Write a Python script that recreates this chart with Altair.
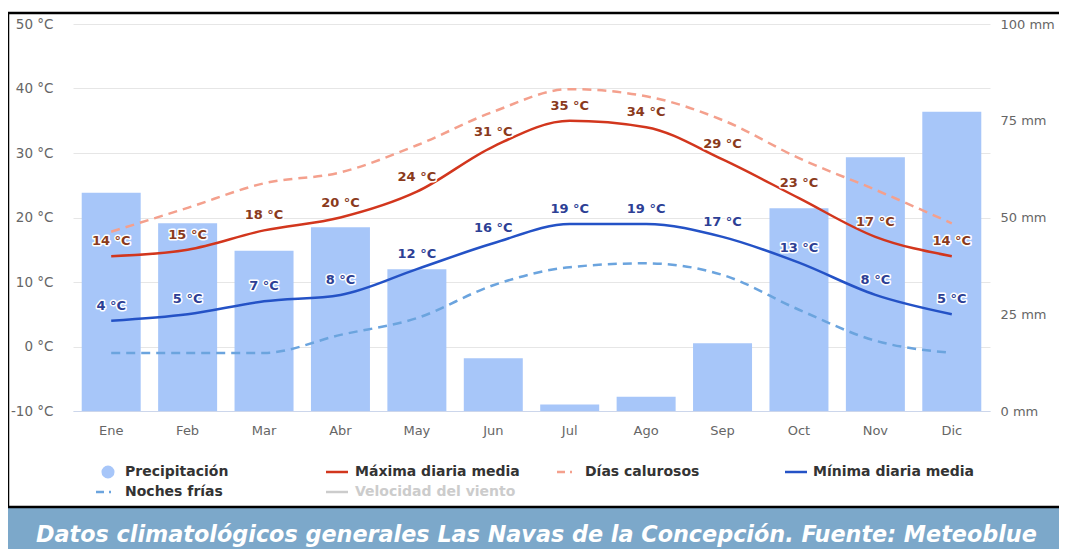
import altair as alt
import pandas as pd

months = ["Ene", "Feb", "Mar", "Abr", "May", "Jun", "Jul", "Ago", "Sep", "Oct", "Nov", "Dic"]
precip = [56.4, 48.5, 41.4, 47.5, 36.6, 13.6, 1.7, 3.7, 17.5, 52.4, 65.6, 77.3]
tmax = [14, 15, 18, 20, 24, 31, 35, 34, 29, 23, 17, 14]
hot = [17.8, 21.5, 25.3, 27.0, 31.2, 36.4, 39.9, 38.8, 35.1, 29.2, 24.3, 19.1]
tmin = [4, 5, 7, 8, 12, 16, 19, 19, 17, 13, 8, 5]
cold = [-1, -1, -1, 1.8, 4.4, 9.5, 12.3, 12.9, 11.1, 5.7, 0.9, -1]
temp_ticks = [-10, 0, 10, 20, 30, 40, 50]
mm_ticks = [0, 25, 50, 75, 100]
caption = "Datos climatológicos generales Las Navas de la Concepción. Fuente: Meteoblue"

df = pd.DataFrame({"mes": months, "precip": precip, "tmax": tmax, "hot": hot,
                   "tmin": tmin, "cold": cold})

FONT = "DejaVu Sans"
W, H = 917, 387

xenc = alt.X("mes:N", sort=months, title=None,
             scale=alt.Scale(paddingInner=0.228, paddingOuter=0.114),
             axis=alt.Axis(labelAngle=0, ticks=False, domainColor="#ccd6eb",
                           labelColor="#666666", labelFontSize=13, labelFont=FONT,
                           labelPadding=13))

base = alt.Chart(df)

bars = base.mark_bar(color="#a7c6f9").encode(
    x=xenc,
    y=alt.Y("precip:Q", title=None,
            scale=alt.Scale(domain=[0, 100], nice=False, zero=True),
            axis=alt.Axis(orient="right", values=mm_ticks, grid=False, domain=False,
                          ticks=False, labelExpr="datum.value + ' mm'",
                          labelColor="#666666", labelFontSize=13, labelFont=FONT,
                          labelPadding=10)),
)

tscale = alt.Scale(domain=[-10, 50], nice=False, zero=False)
taxis = alt.Axis(orient="left", values=temp_ticks, grid=True, gridColor="#e6e6e6",
                 domain=False, ticks=False, labelExpr="datum.value + ' °C'",
                 labelColor="#666666", labelFontSize=13.5, labelFont=FONT,
                 labelPadding=20)


def ty(field):
    return alt.Y(f"{field}:Q", title=None, scale=tscale, axis=taxis)


def line(field, color, dash=None):
    kw = dict(color=color, strokeWidth=2.5, interpolate="monotone")
    if dash:
        kw["strokeDash"] = dash
    return base.mark_line(**kw).encode(x=xenc, y=ty(field))


def labels(field, color):
    enc = dict(x=xenc, y=ty(field), text=alt.Text("lbl:N"))
    b = base.transform_calculate(lbl=f"datum.{field} + ' °C'")
    halo = b.mark_text(font=FONT, fontSize=13, fontWeight="bold", dy=-15,
                       stroke="white", strokeWidth=3, strokeJoin="round",
                       fill="white").encode(**enc)
    txt = b.mark_text(font=FONT, fontSize=13, fontWeight="bold", dy=-15,
                      fill=color).encode(**enc)
    return halo + txt


temps = alt.layer(
    line("cold", "#6ba4de", dash=[9, 6]),
    line("hot", "#f4a08d", dash=[9, 6]),
    line("tmin", "#2452c6"),
    line("tmax", "#d2361d"),
    labels("tmax", "#8a3a1c"),
    labels("tmin", "#2d3f95"),
)

one = alt.Chart(pd.DataFrame({"k": [0]}))

# frame and caption band
frame = one.mark_rect(fill="transparent", stroke="black", strokeWidth=2.5).encode(
    x=alt.value(-65), x2=alt.value(1010), y=alt.value(-11), y2=alt.value(483))
band = one.mark_rect(fill="#7ca8ca").encode(
    x=alt.value(-75), x2=alt.value(1010), y=alt.value(483), y2=alt.value(530))
band_line = one.mark_rule(color="#5d8aae", strokeWidth=1).encode(
    x=alt.value(-75), x2=alt.value(1010), y=alt.value(483))
cap = one.mark_text(text=caption, font=FONT, fontSize=22.3, fontWeight="bold",
                    fontStyle="italic", color="white", align="left",
                    baseline="alphabetic").encode(x=alt.value(-37), y=alt.value(518))

# custom legend
r1, r2 = 448, 468


def leg_text(t, x, y, color="#333333"):
    return one.mark_text(text=t, font=FONT, fontSize=14, fontWeight="bold",
                         color=color, align="left", baseline="middle").encode(
        x=alt.value(x), y=alt.value(y))


def leg_line(x, y, color, dash=None):
    kw = dict(color=color, strokeWidth=2.5)
    if dash:
        kw["strokeDash"] = dash
    return one.mark_rule(**kw).encode(x=alt.value(x), x2=alt.value(x + 22),
                                      y=alt.value(y))


leg = [one.mark_point(shape="circle", filled=True, size=170, color="#a7c6f9",
                      opacity=1).encode(x=alt.value(35), y=alt.value(r1)),
       leg_text("Precipitación", 52, r1),
       leg_line(253, r1, "#d2361d"), leg_text("Máxima diaria media", 282, r1),
       leg_line(484, r1, "#f4a08d", dash=[8, 5, 2, 7]), leg_text("Días calurosos", 512, r1),
       leg_line(712, r1, "#2452c6"), leg_text("Mínima diaria media", 740, r1),
       leg_line(23, r2, "#6ba4de", dash=[8, 5, 2, 7]), leg_text("Noches frías", 52, r2),
       leg_line(253, r2, "#cccccc"), leg_text("Velocidad del viento", 282, r2, "#cccccc")]

chart = alt.layer(
    band, band_line, frame, bars, temps, cap, *leg
).resolve_scale(y="independent").properties(
    width=W, height=H,
    padding={"left": 65, "top": 16, "right": 69, "bottom": 138},
    autosize=alt.AutoSizeParams(type="none"),
).configure_view(stroke=None)

chart.save("out.html", embed_options={"renderer": "svg", "actions": False})
